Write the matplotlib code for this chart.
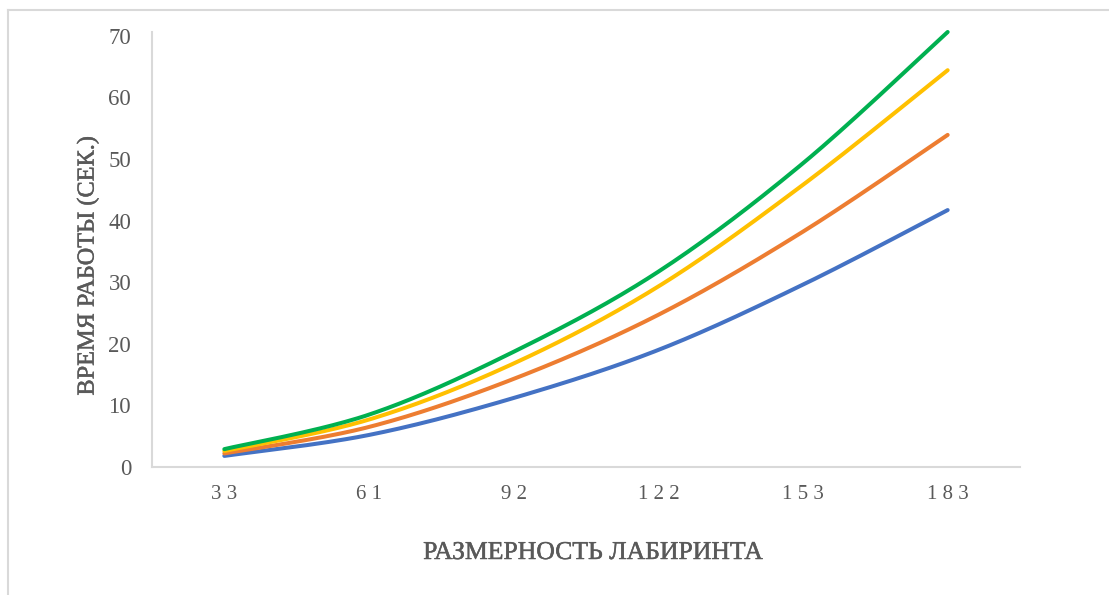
import numpy as np
import matplotlib
matplotlib.use("Agg")
import matplotlib.pyplot as plt
import matplotlib.patheffects as pe
from matplotlib.lines import Line2D

# Maze size (categories) and run time in seconds for four series
sizes = [33, 61, 92, 122, 153, 183]
series_blue = [1.8, 5.2, 11.2, 19.0, 29.6, 41.7]
series_orange = [2.2, 6.5, 14.3, 24.7, 38.2, 53.9]
series_yellow = [2.6, 7.7, 16.8, 29.3, 45.8, 64.4]
series_green = [2.9, 8.5, 18.7, 31.7, 49.3, 70.6]
y_ticks = [0, 10, 20, 30, 40, 50, 60, 70]

colors = ["#4472C4", "#ED7D31", "#FFC000", "#00B050"]
gray = "#595959"
frame = "#D9D9D9"


def smooth(xs, ys, steps=40):
    """Catmull-Rom style smoothed curve through the given points."""
    xs = np.asarray(xs, float)
    ys = np.asarray(ys, float)
    n = len(xs)
    out_x, out_y = [], []
    for i in range(n - 1):
        p0 = (xs[max(i - 1, 0)], ys[max(i - 1, 0)])
        p1 = (xs[i], ys[i])
        p2 = (xs[i + 1], ys[i + 1])
        p3 = (xs[min(i + 2, n - 1)], ys[min(i + 2, n - 1)])
        c1 = (p1[0] + (p2[0] - p0[0]) / 6, p1[1] + (p2[1] - p0[1]) / 6)
        c2 = (p2[0] - (p3[0] - p1[0]) / 6, p2[1] - (p3[1] - p1[1]) / 6)
        t = np.linspace(0, 1, steps)
        b0 = (1 - t) ** 3
        b1 = 3 * (1 - t) ** 2 * t
        b2 = 3 * (1 - t) * t ** 2
        b3 = t ** 3
        out_x.extend(b0 * p1[0] + b1 * c1[0] + b2 * c2[0] + b3 * p2[0])
        out_y.extend(b0 * p1[1] + b1 * c1[1] + b2 * c2[1] + b3 * p2[1])
    return np.array(out_x), np.array(out_y)


plt.rcParams["font.family"] = ["Liberation Serif", "DejaVu Serif"]

W, H = 1109, 595
fig = plt.figure(figsize=(W / 100, H / 100), dpi=100)
fig.patch.set_facecolor("white")

# Outer chart-area border (top and left edges visible)
fig.add_artist(Line2D([8 / W, 1.0], [1 - 9.5 / H, 1 - 9.5 / H], color=frame, lw=1.5))
fig.add_artist(Line2D([8 / W, 8 / W], [1 - 9.5 / H, 0.0], color=frame, lw=1.5))

ax = fig.add_axes([152 / W, 1 - 467 / H, 868 / W, 435 / H])

pos = np.arange(len(sizes))
for ys, c in zip([series_blue, series_orange, series_yellow, series_green], colors):
    sx, sy = smooth(pos, ys)
    ax.plot(sx, sy, color=c, lw=2.9, solid_capstyle="round", clip_on=False)

ax.set_xlim(-0.5, len(sizes) - 0.5)
ax.set_ylim(0, 70.6)
ax.set_xticks(pos)
ax.set_xticklabels([" ".join(str(s)) for s in sizes])
ax.set_yticks(y_ticks)
ax.set_yticklabels([str(v) for v in y_ticks])
ax.tick_params(axis="both", length=0, colors=gray)
ax.tick_params(axis="y", labelsize=16.5, pad=15)
ax.tick_params(axis="x", labelsize=15, pad=13)

for side in ["top", "right"]:
    ax.spines[side].set_visible(False)
for side in ["left", "bottom"]:
    ax.spines[side].set_color(frame)
    ax.spines[side].set_linewidth(1.5)

heavy = [pe.withStroke(linewidth=0.35, foreground=gray)]
fig.text(593 / W, 1 - 553 / H, "РАЗМЕРНОСТЬ ЛАБИРИНТА", ha="center", va="center",
         fontsize=18.5, color=gray, path_effects=heavy)
fig.text(88 / W, 1 - 266 / H, "ВРЕМЯ РАБОТЫ (СЕК.)", ha="center", va="center",
         rotation=90, fontsize=17.5, color=gray, path_effects=heavy)

fig.savefig("out.png", dpi=100, facecolor="white")
